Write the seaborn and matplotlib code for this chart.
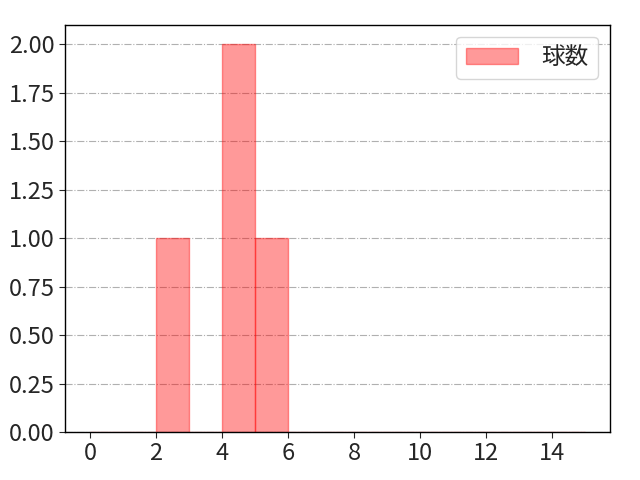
import matplotlib
matplotlib.use("Agg")
import matplotlib.pyplot as plt
import seaborn as sns
import numpy as np
import pandas as pd

# data
pitch_values = [2, 4, 4, 5]
bin_edges = list(range(0, 16))
label = "球数"

sns.set_style("white")
plt.rcParams['font.family'] = ['Noto Sans CJK JP', 'DejaVu Sans']

fig, ax = plt.subplots(figsize=(6.4, 4.8), dpi=100)
fig.subplots_adjust(left=0.102, right=0.953, top=0.948, bottom=0.1)

df = pd.DataFrame({label: pitch_values})
sns.histplot(data=df, x=label, bins=bin_edges, stat="count", color="red",
             alpha=0.4, edgecolor=(1, 0, 0, 0.4), linewidth=1, ax=ax, label=label)

ax.set_xlim(-0.75, 15.75)
ax.set_ylim(0, 2.1)
ax.set_xticks(np.arange(0, 16, 2))
ax.set_yticks(np.arange(0, 2.01, 0.25))
ax.yaxis.set_major_formatter(matplotlib.ticker.FormatStrFormatter('%.2f'))
ax.grid(axis='y', linestyle='-.', color='#b0b0b0', linewidth=0.8)
ax.set_axisbelow(True)
ax.set_xlabel("")
ax.set_ylabel("")
ax.tick_params(axis='both', labelsize=17, length=4, left=True, bottom=True)
for s in ax.spines.values():
    s.set_color('black')
    s.set_linewidth(1)
ax.legend(loc='upper right', fontsize=17, handlelength=2.2, handletextpad=1.0)

fig.savefig("out.png", dpi=100)
